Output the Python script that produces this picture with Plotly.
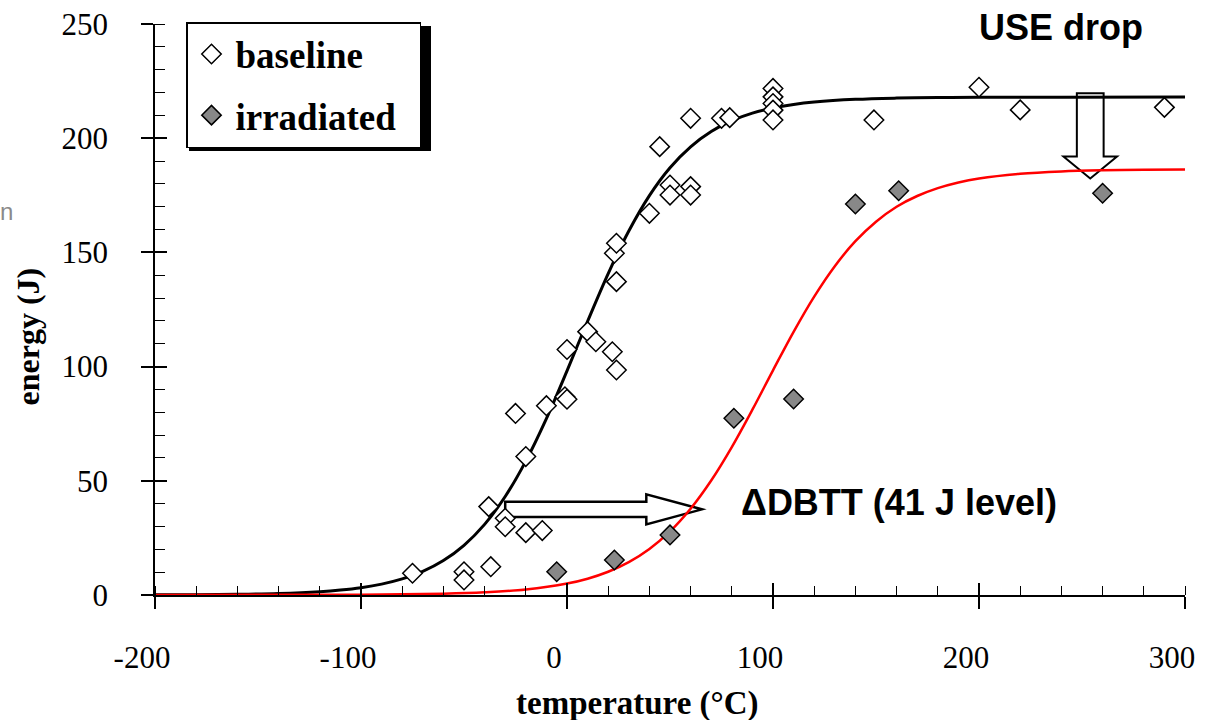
import plotly.graph_objects as go

# ---------------- data ----------------
baseline_T = [-75, -50, -50, -37, -38, -30, -30, -20, -12, -25, -20, -10, -1, 0, 0,
              10, 14, 22, 24, 24, 23, 24, 40, 50, 50, 60, 60, 45, 60, 75, 79,
              100, 100, 100, 100, 100, 149, 200, 220, 290]
baseline_E = [9.5, 10.2, 6.6, 12.4, 38.7, 33.6, 29.9, 27.3, 28.2, 79.5, 60.6, 82.9, 86.8, 85.7, 107.5,
              115.3, 110.9, 106.5, 98.5, 137.2, 149.6, 154.0, 167.1, 179.5, 175.1, 178.8, 175.1, 196.3, 208.7, 208.7, 209.0,
              221.8, 218.1, 215.2, 212.3, 208.0, 208.0, 222.3, 212.4, 213.5]

irradiated_T = [-5, 23, 50, 81, 110, 140, 161, 260]
irradiated_E = [10.2, 15.3, 26.3, 77.4, 85.8, 171.2, 177.0, 175.9]

# fitted curves
baseline_fit_T = [-200, -180, -160, -140, -120, -110, -100, -90, -80, -70, -60, -50, -40, -30, -20, -10,
                  0, 10, 20, 30, 40, 50, 60, 70, 80, 90, 100, 110, 120, 140, 160, 180, 200, 240, 300]
baseline_fit_E = [0.06, 0.13, 0.30, 0.66, 1.46, 2.17, 3.22, 4.77, 7.04, 10.34, 15.07, 21.75, 30.92, 43.12, 58.63, 77.25,
                  98.14, 119.86, 140.75, 159.37, 174.88, 187.08, 196.25, 202.93, 207.66, 210.96, 213.23, 214.78, 215.83,
                  217.02, 217.56, 217.80, 217.91, 217.98, 218.0]

irradiated_fit_T = [-200, -100, -60, -40, -20, 0, 10, 20, 30, 40, 50, 60, 70, 80, 90, 100, 110, 120, 130,
                    140, 150, 160, 170, 180, 190, 200, 220, 240, 260, 280, 300]
irradiated_fit_E = [0.0, 0.13, 0.56, 1.16, 2.40, 5.00, 7.14, 10.17, 14.38, 20.15, 27.83, 37.78, 50.13, 64.78, 81.15,
                    98.37, 115.24, 130.66, 143.97, 154.90, 163.44, 169.99, 174.69, 178.14, 180.63, 182.38, 184.45,
                    185.47, 185.96, 186.19, 186.30]

x_ticks = [-200, -100, 0, 100, 200, 300]
y_ticks = [0, 50, 100, 150, 200, 250]

# annotation arrows (data coordinates)
dbtt_y, dbtt_x0, dbtt_xhead, dbtt_xtip = 37.5, -30, 38.5, 65.5
dbtt_half_shaft, dbtt_half_head = 3.3, 6.6
use_x, use_ytop, use_yhead, use_ytip = 254, 219.7, 192.0, 182.4
use_half_shaft, use_half_head = 6.5, 13.0

SERIF = "Liberation Serif, Times New Roman, serif"
SANS = "Liberation Sans, Arial, sans-serif"
NB = "\u00a0"

fig = go.Figure()

fig.add_trace(go.Scatter(x=baseline_fit_T, y=baseline_fit_E, mode="lines", line=dict(color="black", width=3, shape="spline"),
                         showlegend=False, hoverinfo="skip"))
fig.add_trace(go.Scatter(x=irradiated_fit_T, y=irradiated_fit_E, mode="lines", line=dict(color="#ff0000", width=2.5, shape="spline"),
                         showlegend=False, hoverinfo="skip"))
fig.add_trace(go.Scatter(x=baseline_T, y=baseline_E, mode="markers", name="baseline", legendgroup="a",
                         marker=dict(symbol="diamond", size=15, color="white", line=dict(color="black", width=1.5))))
fig.add_trace(go.Scatter(x=irradiated_T, y=irradiated_E, mode="markers", name="irradiated" + NB * 2, legendgroup="b",
                         marker=dict(symbol="diamond", size=15, color="#888888", line=dict(color="black", width=1.5))))
# dummy trace to activate the overlay axes (inside half of crossing major ticks)
fig.add_trace(go.Scatter(x=[None], y=[None], xaxis="x2", yaxis="y2", showlegend=False, hoverinfo="skip"))

# arrows
dbtt_path = (f"M {dbtt_x0},{dbtt_y - dbtt_half_shaft} L {dbtt_xhead},{dbtt_y - dbtt_half_shaft} "
             f"L {dbtt_xhead},{dbtt_y - dbtt_half_head} L {dbtt_xtip},{dbtt_y} "
             f"L {dbtt_xhead},{dbtt_y + dbtt_half_head} L {dbtt_xhead},{dbtt_y + dbtt_half_shaft} "
             f"L {dbtt_x0},{dbtt_y + dbtt_half_shaft} Z")
use_path = (f"M {use_x - use_half_shaft},{use_ytop} L {use_x + use_half_shaft},{use_ytop} "
            f"L {use_x + use_half_shaft},{use_yhead} L {use_x + use_half_head},{use_yhead} "
            f"L {use_x},{use_ytip} L {use_x - use_half_head},{use_yhead} "
            f"L {use_x - use_half_shaft},{use_yhead} Z")
shapes = [
    dict(type="path", path=dbtt_path, xref="x", yref="y", line=dict(color="black", width=2.5), fillcolor="white", layer="below"),
    dict(type="path", path=use_path, xref="x", yref="y", line=dict(color="black", width=2), fillcolor="white", layer="below"),
    # legend shadow
    dict(type="rect", xref="paper", yref="paper", x0=(189 - 155) / 1030, x1=(431 - 155) / 1030,
         y0=(595 - 151) / 571, y1=(595 - 26) / 571, fillcolor="black", line=dict(width=0), layer="above"),
]

annotations = [
    dict(text="<b>USE drop</b>", x=239.8, y=248.5, xref="x", yref="y", showarrow=False,
         font=dict(family=SANS, size=36, color="black"), xanchor="center", yanchor="middle"),
    dict(text="<b>\u0394DBTT (41 J level)</b>", x=161.2, y=40.5, xref="x", yref="y", showarrow=False,
         font=dict(family=SANS, size=36, color="black"), xanchor="center", yanchor="middle"),
    dict(text="<b>temperature (°C)</b>", x=34.2, y=(595 - 703) / 571, xref="x", yref="paper", showarrow=False,
         font=dict(family=SERIF, size=33, color="black"), xanchor="center", yanchor="middle"),
    dict(text="<b>energy (J)</b>", x=(27 - 155) / 1030, y=(595 - 336.5) / 571, xref="paper", yref="paper", showarrow=False,
         textangle=-90, font=dict(family=SERIF, size=32, color="black"), xanchor="center", yanchor="middle"),
    dict(text="n", x=(6 - 155) / 1030, y=(595 - 211) / 571, xref="paper", yref="paper", showarrow=False,
         font=dict(family=SANS, size=24, color="#8a8a8a"), xanchor="center", yanchor="middle"),
]

tickfont = dict(family=SERIF, size=31, color="black")
fig.update_layout(
    width=1211, height=720,
    margin=dict(l=155, r=26, t=24, b=125, autoexpand=False),
    paper_bgcolor="white", plot_bgcolor="white",
    shapes=shapes, annotations=annotations,
    xaxis=dict(range=[-200, 300], tickvals=x_ticks, ticktext=[str(v) for v in x_ticks], ticks="outside", ticklen=12,
               tickwidth=1.5, tickcolor="black", showline=True, linecolor="black", linewidth=1.5, automargin=False,
               showgrid=False, zeroline=False, tickfont=tickfont, ticklabelstandoff=22, ticklabelshift=-13,
               minor=dict(dtick=20, tick0=0, ticks="inside", ticklen=9, tickwidth=1.2, tickcolor="black")),
    yaxis=dict(range=[0, 250], tickvals=y_ticks, ticktext=[str(v) for v in y_ticks], ticks="outside", ticklen=12,
               tickwidth=1.5, tickcolor="black", showline=True, linecolor="black", linewidth=1.5, automargin=False,
               showgrid=False, zeroline=False, tickfont=tickfont, ticklabelstandoff=27,
               minor=dict(dtick=10, tick0=0, ticks="inside", ticklen=10, tickwidth=1.2, tickcolor="black")),
    xaxis2=dict(overlaying="x", anchor="y2", side="bottom", range=[-200, 300], tickvals=x_ticks, ticks="inside",
                ticklen=12, tickwidth=1.5, tickcolor="black", showticklabels=False, showline=False, automargin=False,
                showgrid=False, zeroline=False),
    yaxis2=dict(overlaying="y", anchor="x2", side="left", range=[0, 250], tickvals=y_ticks, ticks="inside",
                ticklen=12, tickwidth=1.5, tickcolor="black", showticklabels=False, showline=False, automargin=False,
                showgrid=False, zeroline=False),
    legend=dict(x=(186 - 155) / 1030, y=(595 - 22) / 571, xanchor="left", yanchor="top", itemwidth=38,
                bgcolor="white", bordercolor="black", borderwidth=1.5, traceorder="grouped", tracegroupgap=10,
                font=dict(family=SERIF, size=37, color="black", weight="bold")),
    showlegend=True,
)

fig.write_html("out.html")
